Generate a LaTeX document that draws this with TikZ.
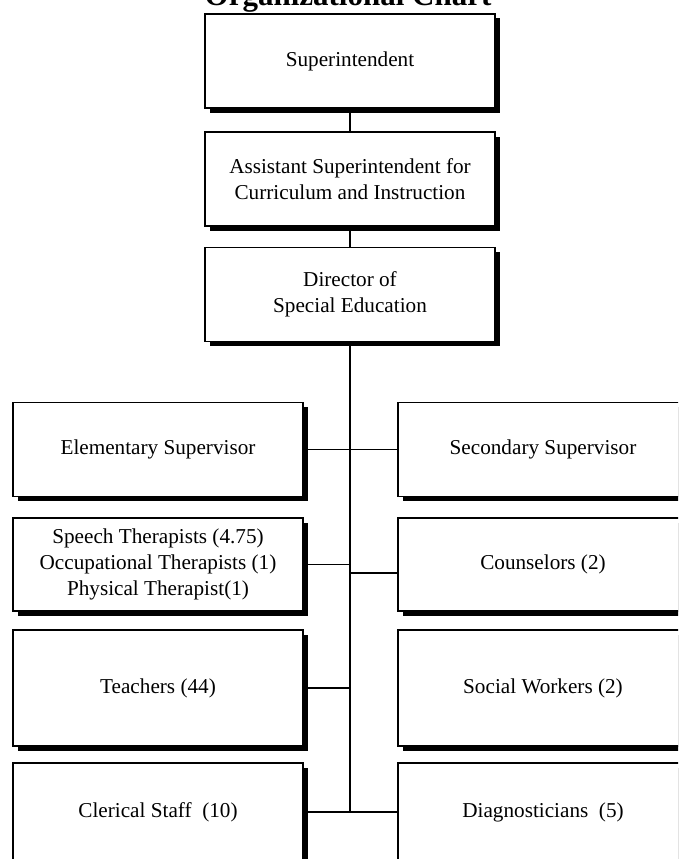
\documentclass[tikz,border=0pt]{standalone}
\usepackage{fontspec}
\setmainfont{Liberation Serif}
\usetikzlibrary{shadows,positioning}

\tikzset{
  post/.style={draw, line width=1.3pt, fill=white, minimum width=290pt, minimum height=94pt,
    inner sep=0pt, align=center, font=\fontsize{21.2}{26}\selectfont,
    drop shadow={shadow xshift=4.5pt, shadow yshift=-4.5pt, fill=black, opacity=1}},
  link/.style={line width=1.3pt}
}

\begin{document}
\begin{tikzpicture}[x=1pt,y=-1pt]
\useasboundingbox (0,0) rectangle (678,859);
\clip (0,0) rectangle (678,859);
\fill[white] (0,0) rectangle (678,859);
\node[font=\fontsize{31}{36}\bfseries\selectfont, anchor=base] (title) at (348,6) {Organizational Chart};

\node[post] (sup) at (350,61) {Superintendent};
\node[post] (asst) at (350,179) {Assistant Superintendent for\\Curriculum and Instruction};
\node[post] (dir) at (350,294.5) {Director of\\Special Education};

\node[post] (elem) at (158,449.5) {Elementary Supervisor};
\node[post] (sec) at (543,449.5) {Secondary Supervisor};
\node[post, minimum height=93pt] (speech) at (158,564.5) {Speech Therapists (4.75)\\Occupational Therapists (1)\\Physical Therapist(1)};
\node[post, minimum height=93pt] (couns) at (543,564.5) {Counselors (2)};
\node[post, minimum height=116pt] (teach) at (158,688) {Teachers (44)};
\node[post, minimum height=116pt] (social) at (543,688) {Social Workers (2)};
\node[post, minimum height=98pt] (cler) at (158,812) {Clerical Staff \ (10)};
\node[post, minimum height=98pt] (diag) at (543,812) {Diagnosticians \ (5)};

\draw[link] (sup) -- (asst);
\draw[link] (asst) -- (dir);
\coordinate (foot) at (dir.south |- cler.east);
\draw[link] (dir.south) -- (foot);
\draw[link] (elem.east) -- (sec.west);
\draw[link] (speech.east) -- (speech.east -| foot);
\coordinate (cj) at ([yshift=-8.5pt]couns.west);
\draw[link] (cj) -- (cj -| foot);
\draw[link] (teach.east) -- (teach.east -| foot);
\draw[link] (cler.east) -- (diag.west);
\end{tikzpicture}
\end{document}
